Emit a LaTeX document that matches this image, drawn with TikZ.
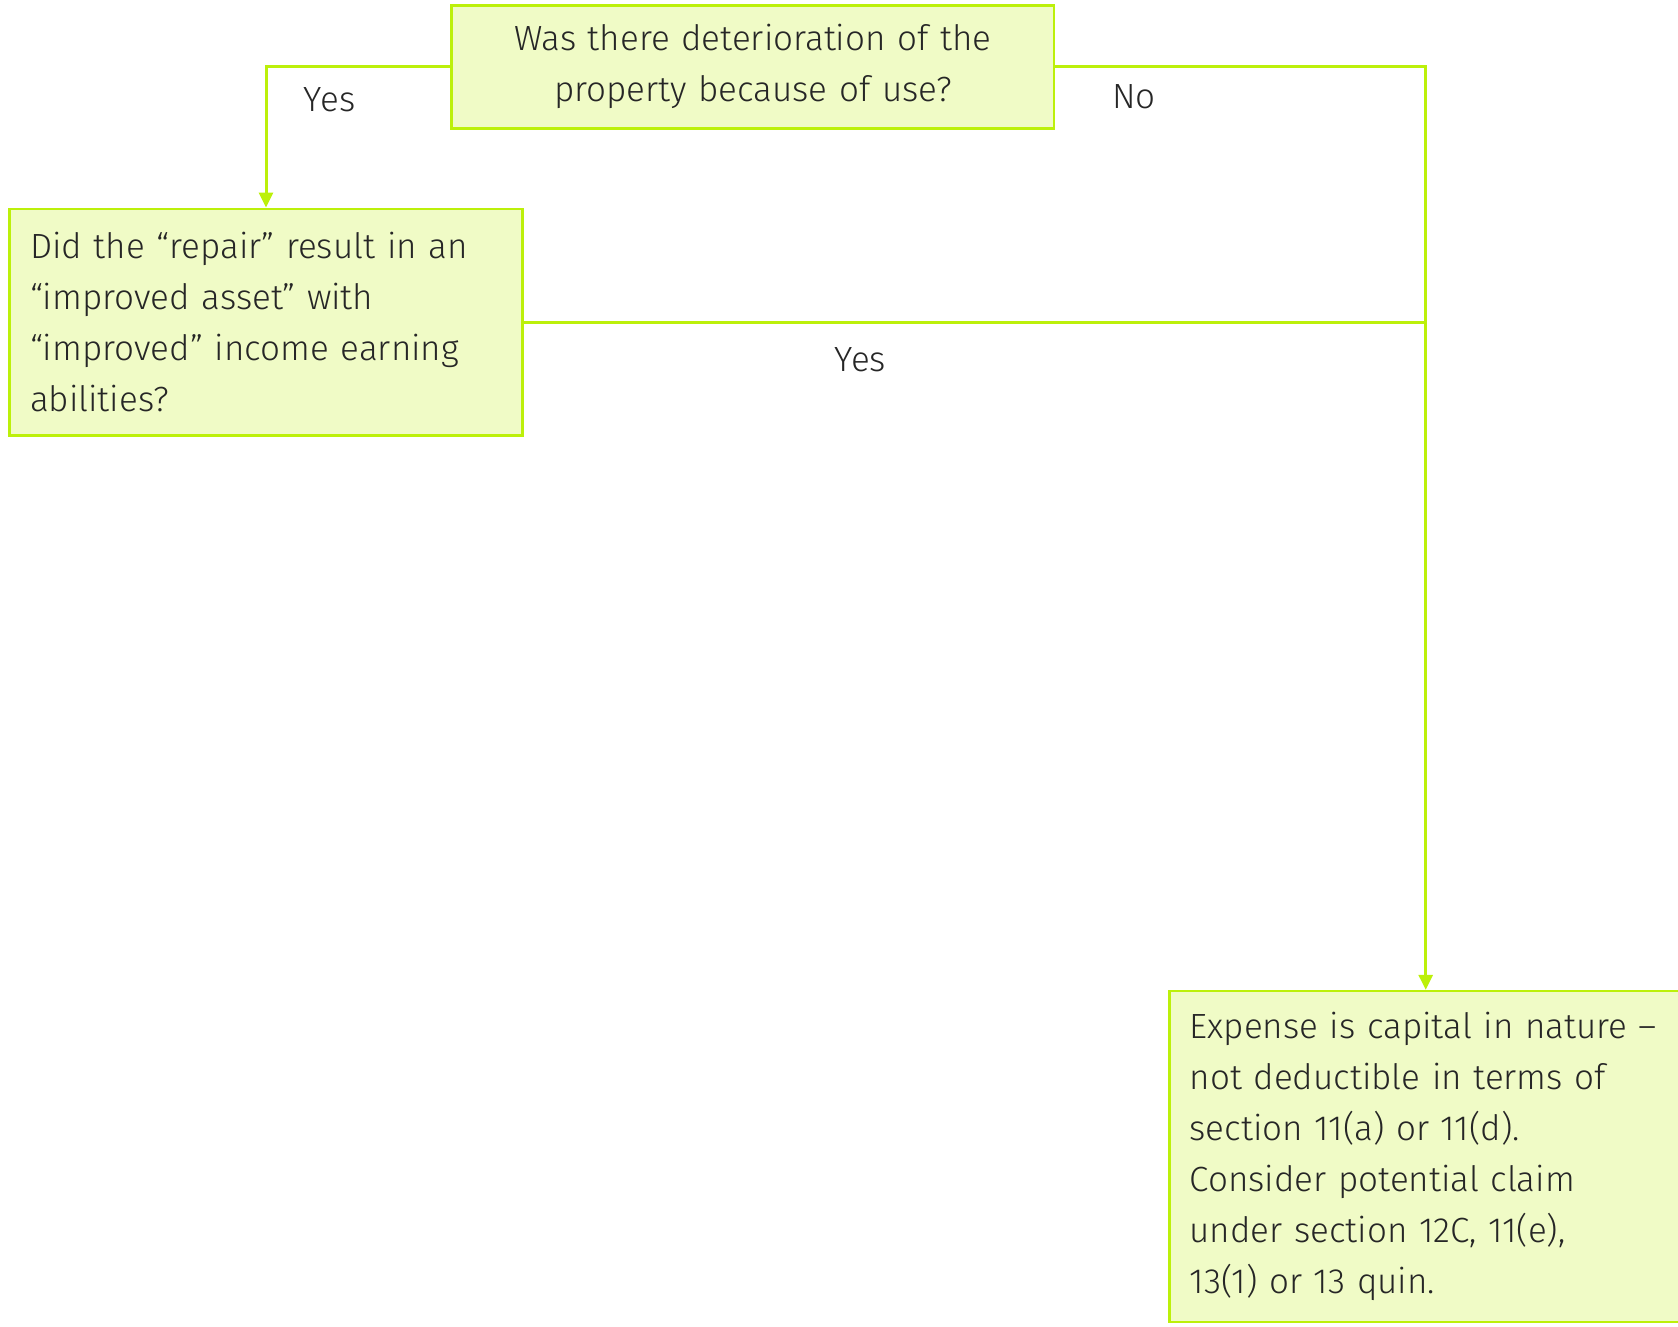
\documentclass[tikz,border=0pt]{standalone}
\usepackage{fontspec}
\setmainfont{Fira Sans}[UprightFont=* Light]
\usetikzlibrary{arrows.meta}
\definecolor{lineGreen}{RGB}{188,240,10}
\definecolor{fillGreen}{RGB}{240,251,198}
\tikzset{
  qbox/.style={draw=lineGreen, fill=fillGreen, line width=2.5pt, rectangle,
    inner xsep=20pt, inner ysep=0pt, font=\fontsize{35}{51}\selectfont,
    text=black!85},
  conn/.style={draw=lineGreen, line width=3pt},
  arr/.style={conn, -{Triangle[width=14pt,length=15pt]}},
  lbl/.style={font=\fontsize{35}{51}\selectfont, text=black!85, inner sep=0pt}
}
\begin{document}
\begin{tikzpicture}[x=1pt,y=-1pt]
\useasboundingbox (0,0) rectangle (1678,1326);
\node[qbox, minimum width=602.6pt, minimum height=123pt, text width=562pt, align=center] (top) at (752.9,66.9)
  {Was there deterioration of the\\property because of use?};
\node[qbox, minimum width=512.7pt, minimum height=226.9pt, text width=472pt, align=left] (left) at (266,322.2)
  {\mbox{Did the “repair” result in an}\\“improved asset” with\\\mbox{“improved” income earning}\\abilities?};
\node[qbox, minimum width=512pt, minimum height=330.7pt, text width=472pt, align=left] (bottom) at (1425.7,1156.4)
  {\mbox{Expense is capital in nature –}\\not deductible in terms of\\section 11(a) or 11(d).\\Consider potential claim\\under section 12C, 11(e),\\13(1) or 13 quin.};
\coordinate (join) at (left.east -| bottom.north);
\draw[arr] (top.west) -| (left.north);
\draw[arr] (top.east) -| (bottom.north);
\draw[conn] (left.east) -- (join);
\node[lbl] (yes1) at (329.6,99.5) {Yes};
\node[lbl] (no1) at (1134,96.3) {No};
\node[lbl] (yes2) at (860.4,359.6) {Yes};
\end{tikzpicture}
\end{document}
